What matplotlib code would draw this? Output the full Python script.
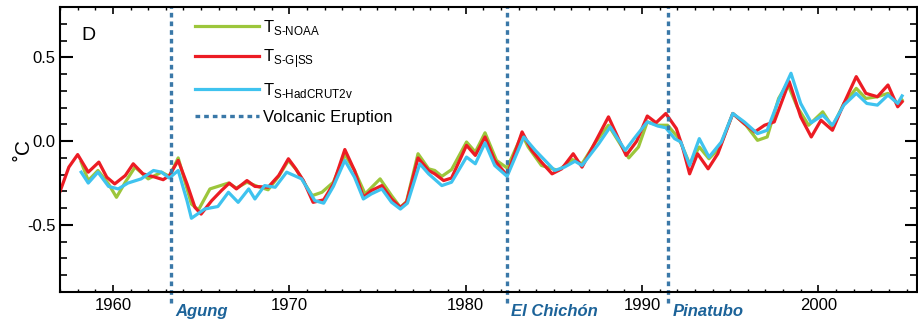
import numpy as np
import matplotlib
matplotlib.use('Agg')
import matplotlib.pyplot as plt
import matplotlib.transforms as mtransforms

plt.rcParams['font.family'] = ['Liberation Sans', 'DejaVu Sans']
plt.rcParams['mathtext.fontset'] = 'custom'
plt.rcParams['mathtext.rm'] = 'Liberation Sans'

# surface temperature anomalies (smoothed)
years_giss = [1957.0, 1957.5, 1958.0, 1958.6, 1959.2, 1959.65, 1960.1, 1960.7, 1961.15, 1961.7,
              1962.4, 1962.85, 1963.2, 1963.7, 1964.2, 1964.65, 1965.0, 1965.6, 1966.15, 1966.6,
              1967.0, 1967.6, 1968.05, 1968.8, 1969.4, 1969.95, 1970.3, 1970.8, 1971.35, 1971.95,
              1972.5, 1973.15, 1973.7, 1974.2, 1974.65, 1975.25, 1975.8, 1976.3, 1976.65, 1977.3,
              1977.9, 1978.25, 1978.75, 1979.2, 1980.05, 1980.55, 1981.1, 1981.65, 1982.35, 1983.2,
              1983.75, 1984.3, 1984.9, 1985.45, 1986.1, 1986.6, 1987.35, 1988.1, 1989.1, 1989.7,
              1990.3, 1990.8, 1991.35, 1991.95, 1992.3, 1992.7, 1993.15, 1993.75, 1994.3, 1995.15,
              1995.8, 1996.4, 1996.95, 1997.5, 1998.35, 1999.0, 1999.6, 2000.15, 2000.8, 2001.45,
              2002.15, 2002.7, 2003.35, 2003.95, 2004.5, 2004.75]
t_giss = [-0.30, -0.155, -0.08, -0.185, -0.125, -0.215, -0.255, -0.205, -0.135, -0.195,
          -0.215, -0.23, -0.205, -0.115, -0.255, -0.395, -0.435, -0.355, -0.295, -0.25,
          -0.285, -0.235, -0.27, -0.275, -0.205, -0.105, -0.155, -0.235, -0.365, -0.35,
          -0.255, -0.05, -0.175, -0.335, -0.295, -0.265, -0.345, -0.395, -0.365, -0.10,
          -0.175, -0.195, -0.235, -0.22, -0.025, -0.085, 0.025, -0.115, -0.205, 0.055,
          -0.055, -0.125, -0.195, -0.165, -0.075, -0.155, -0.005, 0.145, -0.085, 0.0,
          0.15, 0.11, 0.165, 0.075, -0.035, -0.195, -0.075, -0.165, -0.075, 0.165,
          0.105, 0.055, 0.095, 0.115, 0.355, 0.145, 0.025, 0.125, 0.065, 0.225,
          0.385, 0.285, 0.265, 0.335, 0.205, 0.235]

years_noaa = [1958.2, 1958.6, 1959.15, 1959.75, 1960.2, 1960.7, 1961.25, 1962.0, 1962.75, 1963.2,
              1963.7, 1964.45, 1964.85, 1965.5, 1965.95, 1966.55, 1967.0, 1967.6, 1968.2, 1968.8,
              1969.4, 1969.95, 1970.4, 1970.8, 1971.3, 1971.85, 1972.5, 1973.15, 1973.7, 1974.3,
              1975.15, 1975.8, 1976.3, 1976.65, 1977.3, 1977.9, 1978.25, 1978.65, 1979.2, 1980.05,
              1980.55, 1981.1, 1981.75, 1982.35, 1983.2, 1983.55, 1984.3, 1985.25, 1986.05, 1986.6,
              1987.35, 1988.1, 1989.25, 1989.8, 1990.3, 1990.9, 1991.45, 1992.1, 1992.7, 1993.25,
              1993.8, 1994.4, 1995.15, 1995.9, 1996.55, 1997.1, 1997.75, 1998.25, 1998.8, 1999.45,
              2000.25, 2000.8, 2001.45, 2002.15, 2002.7, 2003.35, 2003.95, 2004.5, 2004.75]
t_noaa = [-0.125, -0.235, -0.175, -0.255, -0.335, -0.245, -0.155, -0.225, -0.185, -0.21,
          -0.10, -0.375, -0.41, -0.285, -0.27, -0.25, -0.28, -0.245, -0.27, -0.29,
          -0.21, -0.115, -0.17, -0.24, -0.325, -0.305, -0.245, -0.08, -0.175, -0.315,
          -0.225, -0.325, -0.395, -0.36, -0.075, -0.165, -0.175, -0.21, -0.17, -0.005,
          -0.065, 0.05, -0.115, -0.16, 0.04, -0.035, -0.145, -0.175, -0.11, -0.135,
          -0.01, 0.095, -0.10, -0.035, 0.115, 0.095, 0.095, 0.015, -0.135, -0.035,
          -0.105, -0.04, 0.165, 0.095, 0.005, 0.025, 0.255, 0.345, 0.205, 0.095,
          0.175, 0.085, 0.225, 0.315, 0.255, 0.265, 0.285, 0.225, 0.245]

years_had = [1958.2, 1958.6, 1959.15, 1959.75, 1960.3, 1960.85, 1961.6, 1962.3, 1962.75, 1963.2,
             1963.7, 1964.2, 1964.45, 1965.2, 1965.95, 1966.55, 1967.1, 1967.7, 1968.05, 1968.6,
             1969.2, 1969.85, 1970.7, 1971.45, 1971.95, 1972.5, 1973.15, 1973.7, 1974.2, 1974.65,
             1975.25, 1975.8, 1976.3, 1976.7, 1977.4, 1977.9, 1978.65, 1979.2, 1980.05, 1980.55,
             1981.1, 1981.65, 1982.35, 1983.3, 1983.95, 1984.5, 1985.05, 1985.6, 1986.2, 1986.6,
             1987.55, 1988.2, 1989.05, 1989.55, 1990.3, 1990.9, 1991.35, 1991.85, 1992.2, 1992.7,
             1993.25, 1993.8, 1994.5, 1995.15, 1995.8, 1996.55, 1997.1, 1997.75, 1998.45, 1999.0,
             1999.6, 2000.25, 2000.8, 2001.45, 2002.15, 2002.75, 2003.35, 2003.95, 2004.5, 2004.75]
t_had = [-0.185, -0.25, -0.185, -0.27, -0.285, -0.25, -0.225, -0.175, -0.185, -0.22,
         -0.175, -0.355, -0.46, -0.405, -0.39, -0.305, -0.365, -0.285, -0.345, -0.265,
         -0.275, -0.185, -0.225, -0.355, -0.37, -0.27, -0.115, -0.215, -0.345, -0.315,
         -0.285, -0.365, -0.405, -0.37, -0.135, -0.195, -0.265, -0.245, -0.095, -0.135,
         -0.01, -0.145, -0.21, 0.025, -0.055, -0.115, -0.175, -0.155, -0.12, -0.145,
         -0.015, 0.085, -0.055, 0.015, 0.115, 0.09, 0.08, 0.015, -0.005, -0.145,
         0.015, -0.095, -0.005, 0.165, 0.115, 0.045, 0.065, 0.245, 0.405, 0.225,
         0.11, 0.155, 0.095, 0.215, 0.285, 0.225, 0.215, 0.275, 0.225, 0.27]

volcano_names = ['Agung', 'El Chich\u00f3n', 'Pinatubo']
volcano_years = [1963.3, 1982.35, 1991.5]

fig = plt.figure(figsize=(9.18, 3.21), dpi=100)
ax = fig.add_axes([0.0654, 0.0903, 0.9336, 0.8877])

lw = 2.3
ax.plot(years_noaa, t_noaa, color='#9cc63b', lw=lw, solid_joinstyle='round',
        label='T$_\\mathregular{S\u2010NOAA}$')
ax.plot(years_giss, t_giss, color='#ec1c24', lw=lw, solid_joinstyle='round',
        label='T$_\\mathregular{S\u2010G|SS}$')
ax.plot(years_had, t_had, color='#3fc3ef', lw=lw, solid_joinstyle='round',
        label='T$_\\mathregular{S\u2010HadCRUT2v}$')

trans = mtransforms.blended_transform_factory(ax.transData, ax.transAxes)
for i, (name, yr) in enumerate(zip(volcano_names, volcano_years)):
    ax.axvline(yr, ymin=-0.04, ymax=1, color='#3a78a8', lw=2.4, dashes=(1.4, 1.2),
               clip_on=False, label='Volcanic Eruption' if i == 0 else None)
    ax.text(yr + 0.25, -0.07, name, transform=trans, color='#1c6399', fontsize=12,
            fontweight='bold', fontstyle='italic', ha='left', va='center')

ax.set_xlim(1957, 2005.6)
ax.set_ylim(-0.9, 0.8)
ax.set_xticks([1960, 1970, 1980, 1990, 2000])
ax.set_xticks(np.arange(1957, 2006), minor=True)
ax.set_yticks([-0.5, 0.0, 0.5])
ax.set_yticklabels(['-0.5', '0.0', '0.5'])
ax.set_yticks(np.arange(-0.8, 0.75, 0.1), minor=True)
ax.tick_params(axis='y', which='major', direction='in', length=9, width=1.5,
               left=True, right=True, labelsize=12, pad=3)
ax.tick_params(axis='y', which='minor', direction='in', length=5, width=1.2, left=True, right=True)
ax.tick_params(axis='x', which='major', direction='in', length=5, width=1.2,
               top=True, bottom=True, labelsize=12, pad=4)
ax.tick_params(axis='x', which='minor', direction='in', length=2.5, width=1, top=True, bottom=True)
for s in ax.spines.values():
    s.set_linewidth(1.5)

ax.set_ylabel('\u02daC', fontsize=15)
ax.yaxis.set_label_coords(-0.031, 0.5)
ax.text(0.025, 0.9, 'D', transform=ax.transAxes, fontsize=14, va='center', ha='left')

ax.legend(loc='upper left', bbox_to_anchor=(0.15, 0.985), frameon=False, fontsize=12,
          handlelength=3.8, handletextpad=0.25, labelspacing=0.62, borderaxespad=0)

fig.savefig('out.png', dpi=100)
